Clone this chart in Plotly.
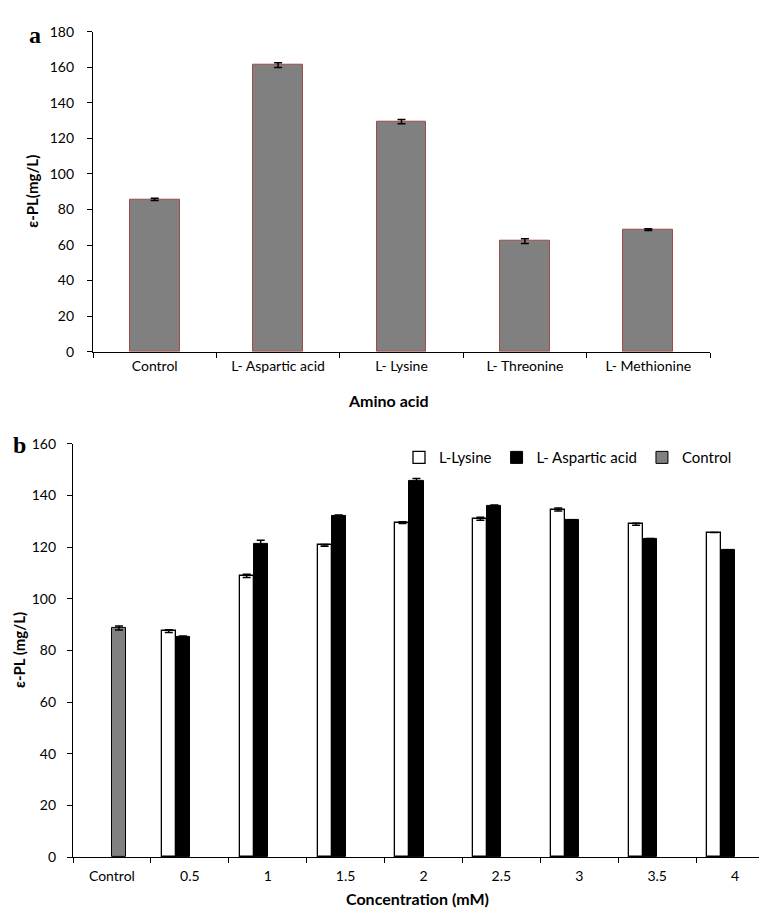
import plotly.graph_objects as go

# ---- Panel a data ----
amino_acids = ["Control", "L- Aspartic acid", "L- Lysine", "L- Threonine", "L- Methionine"]
epl_a = [85.7, 161.2, 129.4, 62.2, 68.6]
epl_a_err = [0.6, 1.4, 1.2, 1.3, 0.5]

# ---- Panel b data ----
conc_categories = ["Control", "0.5", "1", "1.5", "2", "2.5", "3", "3.5", "4"]
conc_levels = ["0.5", "1", "1.5", "2", "2.5", "3", "3.5", "4"]
lysine = [87.5, 108.9, 120.7, 129.5, 131.0, 134.6, 128.9, 125.7]
lysine_err = [0.5, 0.6, 0.3, 0.3, 0.6, 0.6, 0.4, 0.0]
aspartic = [85.4, 121.2, 132.0, 145.6, 136.1, 130.4, 123.2, 119.0]
aspartic_err = [0.2, 1.5, 0.5, 1.0, 0.2, 0.2, 0.2, 0.0]
control_cat = ["Control"]
control_val = [88.7]
control_err = [0.8]

FONT = "Lato"
W, H = 767, 912

fig = go.Figure()

# Panel a
fig.add_trace(go.Bar(
    x=amino_acids, y=epl_a, width=0.405,
    marker=dict(color="#808080", line=dict(color="#9E4A48", width=1)),
    error_y=dict(type="data", array=epl_a_err, color="black", thickness=1.5, width=4),
    showlegend=False, xaxis="x", yaxis="y",
))

# Panel b
fig.add_trace(go.Bar(
    x=conc_levels, y=lysine, name="L-Lysine", offset=-0.36, width=0.18,
    marker=dict(color="white", line=dict(color="black", width=1.3)),
    error_y=dict(type="data", array=lysine_err, color="black", thickness=1.5, width=4),
    xaxis="x2", yaxis="y2", legend="legend",
))
fig.add_trace(go.Bar(
    x=conc_levels, y=aspartic, name="L- Aspartic acid", offset=-0.18, width=0.18,
    marker=dict(color="black", line=dict(color="black", width=1)),
    error_y=dict(type="data", array=aspartic_err, color="black", thickness=1.5, width=4),
    xaxis="x2", yaxis="y2", legend="legend",
))
fig.add_trace(go.Bar(
    x=control_cat, y=control_val, name="Control", offset=0.0, width=0.18,
    marker=dict(color="#808080", line=dict(color="black", width=1)),
    error_y=dict(type="data", array=control_err, color="black", thickness=1.5, width=4),
    xaxis="x2", yaxis="y2", legend="legend",
))

tickfont = dict(family=FONT, size=14, color="black")
axis_common = dict(showgrid=False, zeroline=False, showline=True, linecolor="black",
                   linewidth=1.3, ticks="outside", ticklen=5, tickwidth=1.3,
                   tickcolor="black", tickfont=tickfont)

def px_x(p):
    return p / W

def px_y(p):
    return 1 - p / H

fig.update_layout(
    width=W, height=H,
    margin=dict(l=0, r=0, t=0, b=0),
    paper_bgcolor="white", plot_bgcolor="white",
    barmode="overlay",
    xaxis=dict(domain=[px_x(85), px_x(702)], anchor="y", type="category",
               categoryorder="array", categoryarray=amino_acids,
               range=[-0.5, 4.5], tickson="boundaries", ticklabelstandoff=1,
               **axis_common),
    yaxis=dict(domain=[px_y(341), px_y(15)], anchor="x", range=[0, 180], dtick=20,
               ticklabelstandoff=10, **axis_common),
    xaxis2=dict(domain=[px_x(65), px_x(766)], anchor="y2", type="category",
                categoryorder="array", categoryarray=conc_categories,
                range=[-0.5, 8.5], tickson="boundaries", ticklabelstandoff=6,
                **axis_common),
    yaxis2=dict(domain=[px_y(856), px_y(435)], anchor="x2", range=[0, 160], dtick=20,
                ticklabelstandoff=8, **axis_common),
    legend=dict(orientation="h", x=px_x(391), y=px_y(449), xanchor="left", yanchor="middle",
                font=dict(family=FONT, size=15, color="black"), bgcolor="rgba(0,0,0,0)",
                itemwidth=30, tracegroupgap=0),
    bargap=0,
)

annotations = [
    dict(text="<b>a</b>", x=px_x(27), y=px_y(18), font=dict(family="Liberation Serif", size=24, color="black")),
    dict(text="<b>b</b>", x=px_x(11), y=px_y(436), font=dict(family="Liberation Serif", size=24, color="black")),
    dict(text="<b>ε-PL(mg/L)</b>", x=px_x(24), y=px_y(178), textangle=-90,
         font=dict(family=FONT, size=15, color="black")),
    dict(text="<b>Amino acid</b>", x=px_x(380), y=px_y(391),
         font=dict(family=FONT, size=16, color="black")),
    dict(text="<b>ε-PL (mg/L)</b>", x=px_x(11), y=px_y(645), textangle=-90,
         font=dict(family=FONT, size=15, color="black")),
    dict(text="<b>Concentration (mM)</b>", x=px_x(410), y=px_y(898),
         font=dict(family=FONT, size=16, color="black")),
]
for a in annotations:
    a.update(xref="paper", yref="paper", showarrow=False, xanchor="center", yanchor="middle")
fig.update_layout(annotations=annotations)

fig.write_html("out.html")
